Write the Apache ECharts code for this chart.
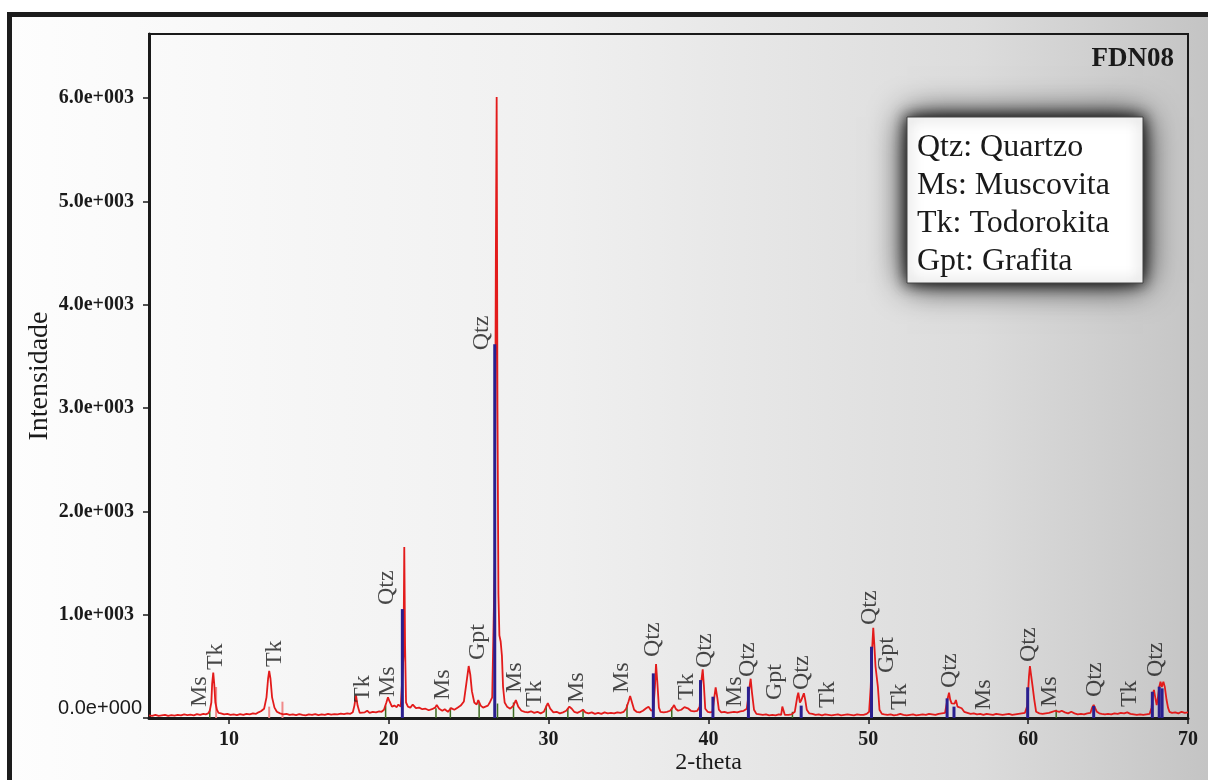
<!DOCTYPE html>
<html>
<head>
<meta charset="utf-8">
<script src="https://cdn.jsdelivr.net/npm/echarts@6/dist/echarts.min.js"></script>
<style>
html,body{margin:0;padding:0;background:#ffffff;}
#c{width:1208px;height:780px;}
</style>
</head>
<body>
<div id="c"></div>
<script>
// ---- DATA ----
const sampleName = 'FDN08';
const legendEntries = ['Qtz: Quartzo', 'Ms: Muscovita', 'Tk: Todorokita', 'Gpt: Grafita'];

// measured diffractogram [2-theta, counts]
const spectrum = [
 [5.0,25],[5.2,20],[5.4,30],[5.6,20],[5.8,25],[6.0,30],[6.2,20],[6.4,28],[6.6,22],[6.8,30],[7.0,25],[7.2,35],[7.4,28],[7.6,32],[7.8,25],[8.0,38],[8.2,30],[8.4,40],[8.55,35],
 [8.7,45],[8.8,70],[8.9,150],[8.95,330],[9.02,440],[9.08,330],[9.15,150],[9.25,80],[9.35,50],
 [9.5,45],[9.7,35],[9.9,40],[10.1,30],[10.3,35],[10.5,28],[10.7,38],[10.9,30],[11.1,40],[11.3,35],[11.5,45],[11.7,40],[11.85,55],
 [12.0,65],[12.2,90],[12.35,200],[12.45,380],[12.52,457],[12.6,380],[12.7,200],[12.85,100],[13.0,60],
 [13.2,45],[13.4,35],[13.6,40],[13.8,30],[14.0,35],[14.2,28],[14.4,38],[14.6,30],[14.8,25],[15.0,35],[15.2,30],[15.4,38],[15.6,28],[15.8,35],[16.0,30],[16.2,40],[16.4,32],[16.6,38],[16.8,35],[17.0,42],[17.2,38],[17.4,45],[17.6,40],
 [17.75,55],[17.85,120],[17.95,219],[18.05,120],[18.18,50],
 [18.3,45],[18.5,55],[18.65,70],[18.8,50],[19.0,60],[19.2,55],[19.4,65],[19.55,60],
 [19.7,80],[19.85,150],[19.95,200],[20.05,160],[20.2,110],[20.35,120],[20.5,105],[20.6,130],[20.75,110],[20.85,120],
 [20.92,600],[20.97,1654],[21.02,700],[21.08,150],
 [21.2,110],[21.35,100],[21.5,130],[21.7,95],[21.9,100],[22.1,85],[22.3,90],[22.5,75],[22.7,85],[22.9,100],[23.0,125],[23.15,90],[23.35,70],[23.5,85],[23.7,60],[23.9,95],[24.1,80],[24.3,100],[24.5,120],
 [24.7,160],[24.85,330],[25.0,503],[25.1,420],[25.2,260],[25.35,150],[25.5,130],[25.6,174],[25.75,120],[25.9,100],[26.05,110],[26.2,120],[26.3,145],[26.4,130],
 [26.47,200],[26.52,600],[26.58,590],[26.63,1500],[26.7,4500],[26.75,6010],[26.8,3000],[26.86,1200],[26.92,800],[27.0,740],[27.08,600],[27.15,300],[27.25,150],
 [27.4,110],[27.6,90],[27.8,120],[27.95,174],[28.1,110],[28.3,70],[28.5,60],[28.7,55],[28.9,65],[29.1,50],[29.3,60],[29.5,45],[29.7,60],[29.85,110],[29.95,145],[30.1,90],
 [30.3,55],[30.5,60],[30.7,45],[30.9,55],[31.1,70],[31.3,110],[31.45,90],[31.6,60],[31.8,50],[32.0,65],[32.15,80],[32.3,55],[32.5,45],[32.7,55],[32.9,40],[33.1,50],[33.3,40],[33.5,55],[33.7,45],[33.9,50],[34.1,45],[34.3,55],[34.5,50],[34.7,60],
 [34.85,90],[35.0,160],[35.1,213],[35.2,160],[35.35,80],[35.5,60],[35.7,55],[35.9,70],[36.1,95],[36.25,110],[36.4,75],[36.55,70],
 [36.65,300],[36.72,522],[36.8,350],[36.9,100],[37.0,60],[37.2,55],[37.4,60],[37.6,70],[37.75,100],[37.85,125],[37.95,90],[38.1,70],[38.3,80],[38.5,105],[38.6,116],[38.75,90],[38.9,70],[39.1,65],[39.3,70],
 [39.45,110],[39.55,350],[39.64,471],[39.72,300],[39.8,90],[39.95,60],[40.1,55],[40.25,60],[40.35,180],[40.45,297],[40.55,200],[40.65,80],[40.8,55],
 [41.0,60],[41.2,50],[41.4,55],[41.6,60],[41.8,55],[42.0,65],[42.2,70],[42.4,90],[42.55,280],[42.64,380],[42.72,250],[42.85,80],
 [43.0,40],[43.2,35],[43.4,30],[43.6,35],[43.8,25],[44.0,30],[44.2,25],[44.4,35],[44.55,30],[44.62,110],[44.7,110],[44.78,30],[45.0,30],[45.2,35],[45.4,60],
 [45.55,200],[45.62,245],[45.72,150],[45.8,170],[45.97,239],[46.05,180],[46.15,80],[46.3,45],[46.5,40],[46.7,30],
 [46.9,35],[47.1,25],[47.3,35],[47.5,30],[47.7,25],[47.9,30],[48.1,35],[48.3,25],[48.5,30],[48.7,35],[48.9,30],[49.1,25],[49.3,35],[49.5,30],[49.7,30],[49.9,40],
 [50.05,60],[50.15,300],[50.25,700],[50.31,873],[50.38,700],[50.45,500],[50.52,496],[50.6,300],[50.7,80],[50.85,40],
 [51.0,35],[51.2,30],[51.4,35],[51.6,25],[51.8,30],[52.0,40],[52.2,30],[52.4,25],[52.6,30],[52.8,35],[53.0,25],[53.2,30],[53.4,35],[53.6,30],[53.8,40],[54.0,35],[54.2,30],[54.4,40],[54.6,45],[54.8,50],
 [54.95,180],[55.05,245],[55.12,180],[55.21,142],[55.3,160],[55.4,140],[55.48,174],[55.58,110],[55.7,100],[55.84,94],
 [56.0,60],[56.2,50],[56.4,40],[56.6,45],[56.8,35],[57.0,40],[57.2,30],[57.4,40],[57.6,35],[57.8,30],[58.0,40],[58.2,35],[58.4,30],[58.6,35],[58.8,40],[59.0,30],[59.2,35],[59.4,40],[59.6,45],[59.8,50],
 [59.95,120],[60.05,400],[60.11,503],[60.18,420],[60.28,303],[60.38,180],[60.5,60],
 [60.7,45],[60.9,40],[61.1,45],[61.3,50],[61.5,60],[61.7,70],[61.8,77],[61.95,60],[62.1,70],[62.3,55],[62.5,45],[62.7,60],[62.9,45],[63.1,35],[63.3,40],[63.5,35],[63.7,45],[63.9,50],
 [64.0,100],[64.1,126],[64.2,110],[64.3,60],[64.45,45],[64.6,40],[64.8,35],[65.0,40],[65.2,35],[65.4,45],[65.6,40],[65.8,50],[66.0,45],[66.2,55],[66.4,40],[66.6,35],[66.8,30],[67.0,35],[67.2,30],[67.4,35],[67.6,40],
 [67.72,100],[67.8,230],[67.87,271],[67.95,200],[68.04,126],[68.12,200],[68.2,300],[68.28,351],[68.36,300],[68.46,351],[68.55,300],[68.66,174],[68.75,100],[68.84,60],
 [69.0,50],[69.2,55],[69.4,45],[69.6,60],[69.8,50],[70.0,55]
];

// reference sticks
const quartzSticks = [[20.85,1054],[26.63,3617],[36.55,432],[39.5,367],[40.28,206],[42.5,303],[45.8,120],[50.2,690],[54.93,190],[55.36,110],[59.97,297],[64.1,116],[67.77,254],[68.2,303],[68.38,287]];
const todorokiteSticks = [[9.23,300],[12.55,110],[13.38,158]];
const muscoviteSticks = [[8.85,80],[19.85,120],[23.0,95],[23.9,100],[25.7,150],[26.85,140],[27.85,150],[29.9,120],[31.25,95],[32.2,70],[34.95,130],[37.75,100],[45.3,60],[61.8,80]];

// peak annotations: text, 2-theta of label centre, intensity where label starts
const peakLabelText = ['Ms','Tk','Tk','Tk','Ms','Qtz','Ms','Gpt','Qtz','Ms','Tk','Ms','Ms','Qtz','Tk','Qtz','Ms','Qtz','Gpt','Qtz','Tk','Qtz','Gpt','Tk','Qtz','Ms','Qtz','Ms','Qtz','Tk','Qtz'];
const peakLabelX = [8.19,9.19,12.88,18.39,19.95,19.89,23.39,25.58,25.83,27.9,29.15,31.78,34.59,36.53,38.66,39.78,41.66,42.47,44.16,45.85,47.48,50.1,51.17,51.98,55.11,57.24,60.05,61.37,64.18,66.37,68.0];
const peakLabelBase = [106,464,493,155,203,1093,174,561,3559,242,106,145,242,590,174,484,106,397,174,271,97,899,435,77,290,77,542,106,203,106,397];

// axis settings
const xMin = 5, xMax = 70;
const xTickValues = [10, 20, 30, 40, 50, 60, 70];
const yMin = 0, yMax = 6620, yStep = 1000;

// ---- CHART ----
const serif = "'Liberation Serif', 'Times New Roman', serif";
const ink = '#1a1a1a';
const chart = echarts.init(document.getElementById('c'), null, {renderer: 'canvas'});

const option = {
  animation: false,
  graphic: [
    {
      type: 'rect', z: -10, silent: true,
      shape: {x: 9.5, y: 14.5, width: 1205, height: 770},
      style: {
        fill: new echarts.graphic.LinearGradient(0, 0, 1, 0, [
          {offset: 0, color: '#fdfdfd'},
          {offset: 0.45, color: '#f0f0f0'},
          {offset: 0.8, color: '#dcdcdc'},
          {offset: 1, color: '#c3c3c3'}
        ]),
        stroke: '#1c1c1c', lineWidth: 5
      }
    },
    {
      type: 'rect', z: 49, silent: true,
      shape: {x: 907, y: 117, width: 236, height: 166},
      style: {fill: '#ffffff', shadowBlur: 34, shadowColor: 'rgba(0,0,0,1)'}
    },
    {
      type: 'rect', z: 50, silent: true,
      shape: {x: 907, y: 117, width: 236, height: 166},
      style: {fill: '#ffffff', stroke: '#444', lineWidth: 1, shadowBlur: 14, shadowColor: 'rgba(0,0,0,0.9)'}
    },
    {
      type: 'text', z: 51, silent: true,
      x: 917, y: 129,
      style: {text: legendEntries.join('\n'), fontFamily: serif, fontSize: 32, lineHeight: 38, fill: ink}
    },
    {
      type: 'text', z: 51, silent: true,
      x: 1174, y: 46,
      style: {text: sampleName, fontFamily: serif, fontSize: 27, fontWeight: 'bold', fill: ink, align: 'right'}
    }
  ],
  grid: {left: 149, right: 20, top: 34, bottom: 62, outerBoundsMode: 'none', containLabel: false,
         show: true, borderColor: ink, borderWidth: 2, backgroundColor: 'transparent'},
  xAxis: {
    type: 'value', min: xMin, max: xMax,
    name: '2-theta', nameLocation: 'middle', nameGap: 33, nameMoveOverlap: false,
    nameTextStyle: {fontFamily: serif, fontSize: 24, color: ink, padding: [0, 0, 0, 80]},
    axisLine: {show: true, lineStyle: {color: ink, width: 3}},
    axisTick: {show: true, length: 6, customValues: xTickValues, lineStyle: {color: ink, width: 1.5}},
    axisLabel: {margin: 12, customValues: xTickValues, fontFamily: serif, fontWeight: 'bold', fontSize: 20, color: ink},
    splitLine: {show: false}
  },
  yAxis: {
    type: 'value', min: yMin, max: yMax, interval: yStep,
    name: 'Intensidade', nameLocation: 'middle', nameGap: 95, nameMoveOverlap: false,
    nameTextStyle: {fontFamily: serif, fontSize: 28, color: ink},
    axisLine: {show: true, lineStyle: {color: ink, width: 3}},
    axisTick: {show: true, length: 6, lineStyle: {color: ink, width: 1.5}},
    axisLabel: {
      margin: 7, showMaxLabel: false,
      formatter: v => v === 0 ? '{z|0.0e+000}' : '{b|' + (v / 1000).toFixed(1) + 'e+003}',
      rich: {
        b: {fontFamily: serif, fontWeight: 'bold', fontSize: 20, color: ink, padding: [0, 8, 0, 0]},
        z: {fontFamily: "'Liberation Sans', Arial, sans-serif", fontSize: 20, color: ink, padding: [0, 0, 20, 0]}
      }
    },
    splitLine: {show: false}
  },
  series: [
    {
      type: 'bar', name: 'Ms', data: muscoviteSticks, barWidth: 1.5, barGap: '-100%',
      itemStyle: {color: '#3d6b22'}, z: 2, silent: true
    },
    {
      type: 'bar', name: 'Tk', data: todorokiteSticks, barWidth: 2, barGap: '-100%',
      itemStyle: {color: '#f08a8a'}, z: 2, silent: true
    },
    {
      type: 'line', name: 'FDN08', data: spectrum, showSymbol: false, symbol: 'none',
      lineStyle: {color: '#e31b1b', width: 1.8}, z: 3, silent: true
    },
    {
      type: 'bar', name: 'Qtz', data: quartzSticks, barWidth: 3, barGap: '-100%',
      itemStyle: {color: '#2a1f8f'}, z: 4, silent: true
    },
    {
      type: 'scatter', name: 'labels', silent: true, z: 6,
      data: peakLabelX.map((x, i) => [x, peakLabelBase[i], peakLabelText[i]]),
      symbolSize: 1, itemStyle: {color: 'rgba(0,0,0,0)'},
      label: {
        show: true, position: 'inside', rotate: 90, align: 'left', verticalAlign: 'middle',
        formatter: p => p.value[2], fontFamily: serif, fontSize: 24, color: ink
      }
    }
  ]
};
chart.setOption(option);
</script>
</body>
</html>
